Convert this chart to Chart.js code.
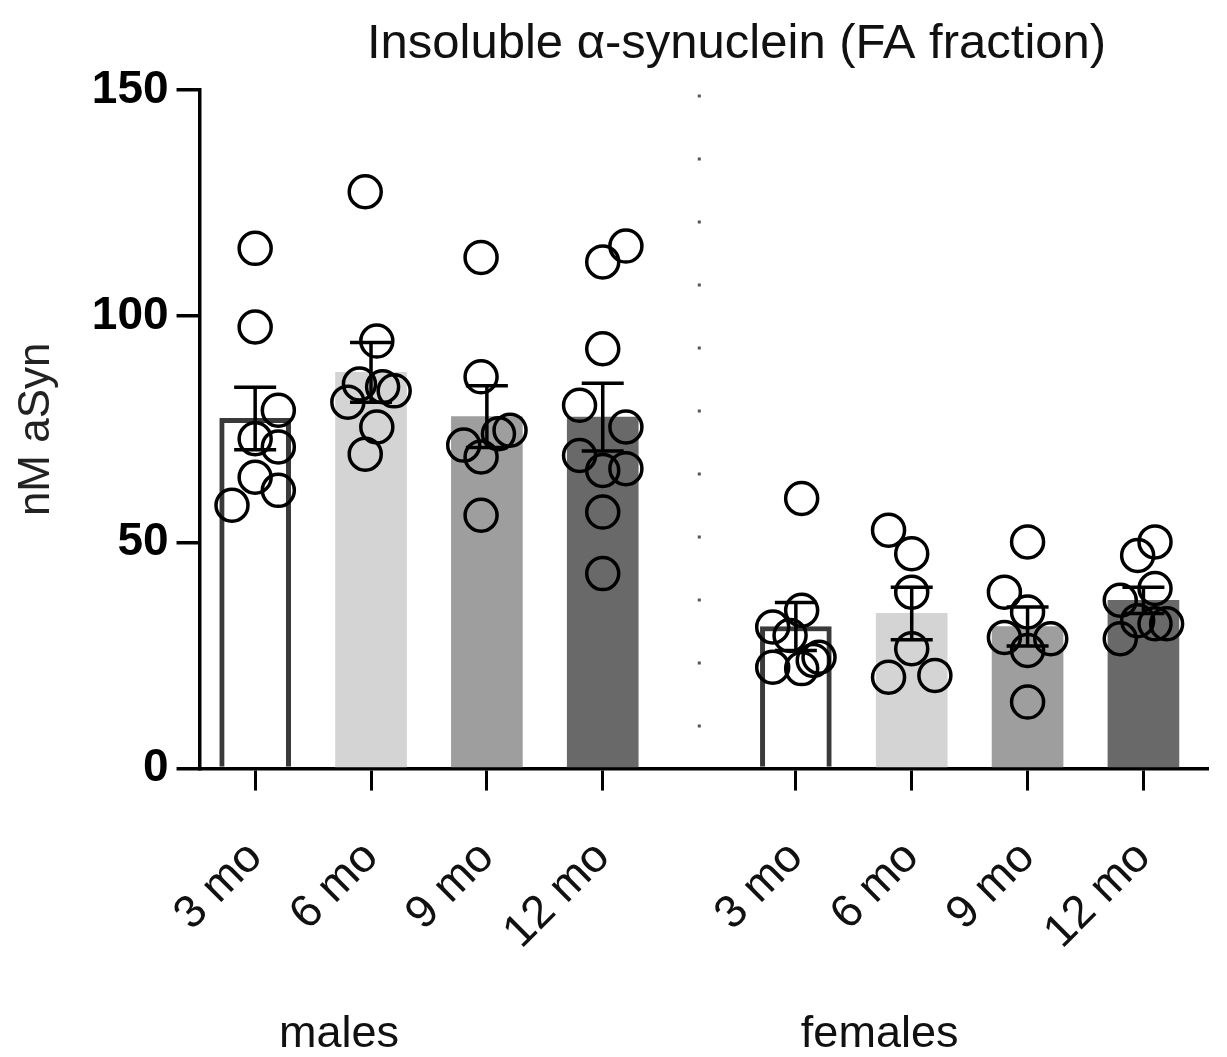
<!DOCTYPE html>
<html>
<head>
<meta charset="utf-8">
<title>Insoluble α-synuclein (FA fraction)</title>
<script src="https://cdn.jsdelivr.net/npm/chart.js@4.4.1/dist/chart.umd.min.js"></script>
<style>
  html, body { margin: 0; padding: 0; background: #fff; }
</style>
</head>
<body>
<canvas id="chartFA" width="1227" height="1057"></canvas>
<script>
var ageLabels = ['3 mo', '6 mo', '9 mo', '12 mo'];
var groupNames = ['males', 'females'];
var yTicks = [0, 50, 100, 150];

// bar heights (mean) and error bars (SEM), nM
var maleMean = [77.4, 87.6, 77.8, 77.7];
var maleSem = [6.9, 6.6, 6.8, 7.5];
var femaleMean = [31.4, 34.3, 31.4, 37.2];
var femaleSem = [5.3, 5.8, 4.3, 2.9];

// single animals, one list per bar
var male3 = [115.0, 97.6, 79.2, 72.9, 71.1, 64.4, 61.5, 58.2];
var male6 = [127.5, 94.5, 85.0, 84.4, 83.5, 81.0, 75.5, 69.5];
var male9 = [113.0, 86.6, 74.8, 74.0, 71.5, 68.9, 56.0];
var male12 = [115.5, 112.0, 92.8, 80.3, 75.5, 69.2, 66.3, 65.9, 56.7, 43.1];
var female3 = [59.7, 35.0, 31.3, 29.4, 24.6, 23.9, 22.4, 22.1];
var female6 = [52.7, 47.5, 39.0, 26.5, 20.6, 20.2];
var female9 = [50.1, 39.0, 34.6, 29.0, 28.7, 26.1, 14.7];
var female12 = [50.1, 47.1, 39.8, 37.2, 32.7, 32.0, 32.0, 28.7];

// which dot column each animal sits in (0 = centre of bar)
var male3Col = [0, 0, 2, 0, 2, 0, 2, -2];
var male6Col = [-0.5, 0.5, -1, 1, 2, -2, 0.5, -0.5];
var male9Col = [-0.5, -0.5, 2, 1, -2, -0.5, -0.5];
var male12Col = [2, 0, 0, -2, 2, -2, 2, 0, 0, 0];
var female3Col = [0.5, 0.5, -2, -0.5, 2, 1.5, -2, 0.5];
var female6Col = [-2, 0, 0, 0, 2, -2];
var female9Col = [0, -2, 0, -2, 2, 0, 0];
var female12Col = [1, -0.5, 1, -2, -0.5, 1, 2, -2];

var FONT = "'Liberation Sans', Arial, Helvetica, sans-serif";
var groupStart = [0, 4.667];   // females are set apart from males
var colStep = 0.1;
var barFill = ['#ffffff', '#d4d4d4', '#9e9e9e', '#696969'];

var means = [maleMean, femaleMean];
var sems = [maleSem, femaleSem];
var dots = [[male3, male6, male9, male12], [female3, female6, female9, female12]];
var cols = [[male3Col, male6Col, male9Col, male12Col], [female3Col, female6Col, female9Col, female12Col]];

var tickPos = [], tickText = [], barData = [], barColors = [], barBorders = [], barBorderW = [], dotData = [];
var errData = [];
for (var g = 0; g < groupNames.length; g++) {
  for (var i = 0; i < ageLabels.length; i++) {
    var xv = groupStart[g] + i;
    tickPos.push(xv);
    tickText.push(ageLabels[i]);
    barData.push({x: xv, y: means[g][i]});
    barColors.push(barFill[i]);
    barBorders.push('#3a3a3a');
    barBorderW.push(i === 0 ? 5 : 0);
    errData.push({x: xv, mean: means[g][i], sem: sems[g][i]});
    var vals = dots[g][i];
    for (var k = 0; k < vals.length; k++) {
      dotData.push({x: xv + cols[g][i][k] * colStep, y: vals[k]});
    }
  }
}

// SEM whiskers with caps
var errorBars = {
  id: 'errorBars',
  afterDatasetsDraw: function(chart) {
    var ctx = chart.ctx, xs = chart.scales.x, ys = chart.scales.y;
    ctx.save();
    ctx.strokeStyle = '#000';
    ctx.lineWidth = 3.5;
    errData.forEach(function(e) {
      var px = xs.getPixelForValue(e.x);
      var top = ys.getPixelForValue(e.mean + e.sem);
      var bot = ys.getPixelForValue(e.mean - e.sem);
      ctx.beginPath();
      ctx.moveTo(px, top); ctx.lineTo(px, bot);
      ctx.moveTo(px - 21, top); ctx.lineTo(px + 21, top);
      ctx.moveTo(px - 21, bot); ctx.lineTo(px + 21, bot);
      ctx.stroke();
    });
    ctx.restore();
  }
};

// dotted divider, title and group names
var decor = {
  id: 'decor',
  beforeDatasetsDraw: function(chart) {
    var ctx = chart.ctx, xs = chart.scales.x, ys = chart.scales.y;
    var px = xs.getPixelForValue((groupStart[0] + 3 + groupStart[1]) / 2);
    ctx.save();
    ctx.strokeStyle = '#555';
    ctx.lineWidth = 3;
    ctx.setLineDash([3, 60]);
    ctx.beginPath();
    ctx.moveTo(px, ys.getPixelForValue(149));
    ctx.lineTo(px, ys.getPixelForValue(8));
    ctx.stroke();
    ctx.restore();
  },
  afterDraw: function(chart) {
    var ctx = chart.ctx, xs = chart.scales.x, area = chart.chartArea;
    ctx.save();
    ctx.fillStyle = '#111';
    ctx.textAlign = 'center';
    ctx.textBaseline = 'alphabetic';
    ctx.font = '49px ' + FONT;
    ctx.fillText('Insoluble α-synuclein (FA fraction)', (area.left + area.right) / 2 + 33, 58);
    ctx.font = '45px ' + FONT;
    for (var g = 0; g < groupNames.length; g++) {
      var cx = xs.getPixelForValue(groupStart[g] + 1.5) - 90;
      ctx.fillText(groupNames[g], cx, 1047);
    }
    ctx.restore();
  }
};

var ctx = document.getElementById('chartFA').getContext('2d');
var chart = new Chart(ctx, {
  data: {
    datasets: [{
      type: 'scatter',
      data: dotData,
      order: 0,
      pointRadius: 16,
      pointBorderWidth: 3.5,
      pointBorderColor: '#000',
      pointBackgroundColor: 'rgba(0,0,0,0)'
    }, {
      type: 'bar',
      data: barData,
      order: 1,
      backgroundColor: barColors,
      borderColor: barBorders,
      borderWidth: barBorderW,
      barThickness: 71
    }]
  },
  options: {
    responsive: false,
    animation: false,
    devicePixelRatio: 1,
    layout: { padding: { top: 90, right: 9, bottom: 57, left: 0 } },
    plugins: { legend: { display: false }, tooltip: { enabled: false } },
    scales: {
      x: {
        type: 'linear',
        offset: false,
        min: -0.48,
        max: 8.22,
        afterBuildTicks: function(scale) {
          scale.ticks = tickPos.map(function(v) { return {value: v}; });
        },
        ticks: {
          autoSkip: false,
          minRotation: 45,
          maxRotation: 45,
          padding: 40,
          color: '#111',
          font: { family: FONT, size: 46 },
          callback: function(value, index) { return tickText[index]; }
        },
        grid: { offset: false, drawOnChartArea: false, drawTicks: true, tickLength: 22, color: '#000', lineWidth: 3 },
        border: { display: true, color: '#000', width: 3.5 }
      },
      y: {
        min: 0,
        max: 150,
        afterBuildTicks: function(scale) {
          scale.ticks = yTicks.map(function(v) { return {value: v}; });
        },
        ticks: {
          padding: 8,
          color: '#000',
          font: { family: FONT, size: 46, weight: 'bold' }
        },
        grid: { drawOnChartArea: false, drawTicks: true, tickLength: 23, color: '#000', lineWidth: 3.5 },
        border: { display: true, color: '#000', width: 3.5 },
        title: {
          display: true,
          text: 'nM aSyn',
          color: '#222',
          font: { family: FONT, size: 44 },
          padding: { top: 10, bottom: 21 }
        }
      }
    }
  },
  plugins: [errorBars, decor]
});
</script>
</body>
</html>
